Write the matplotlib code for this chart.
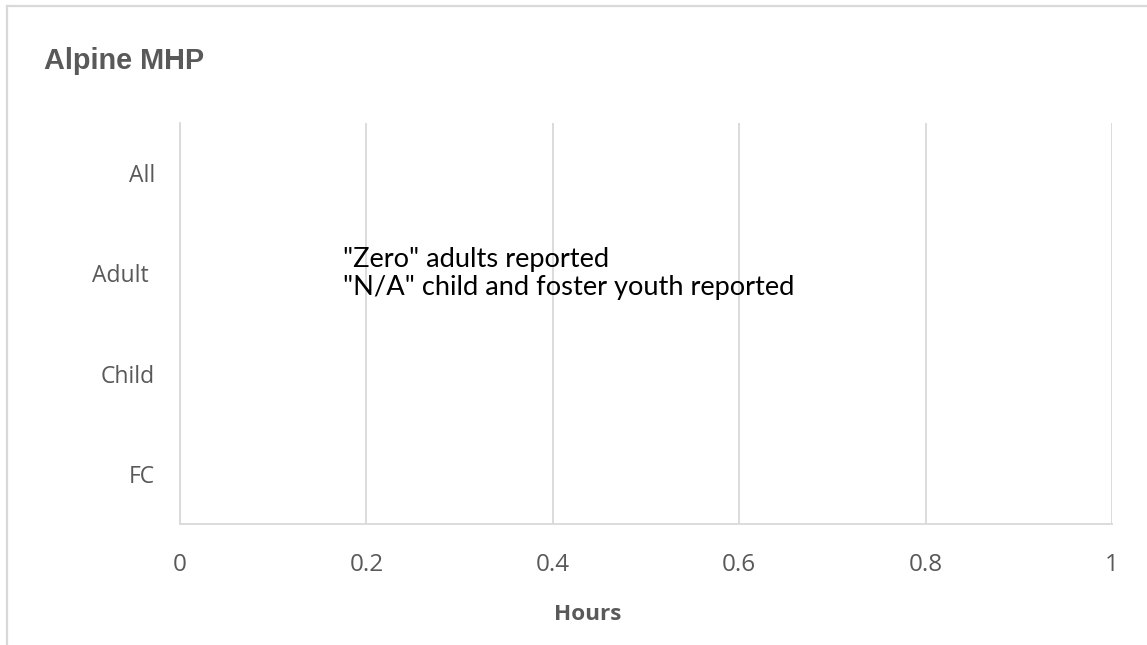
import numpy as np
import matplotlib
matplotlib.use("Agg")
import matplotlib.pyplot as plt
from matplotlib.lines import Line2D

# Service categories (top to bottom) and hours reported
categories = ["All", "Adult ", "Child", "FC"]
hours = [0.0, 0.0, np.nan, np.nan]
x_ticks = [0, 0.2, 0.4, 0.6, 0.8, 1]
x_tick_labels = ["0", "0.2", "0.4", "0.6", "0.8", "1"]

title = "Alpine MHP"
x_title = "Hours"
note_lines = ['"Zero" adults reported', '"N/A" child and foster youth reported']

TEXT = "#595959"
GRID = "#d9d9d9"

W, H = 1147, 645
fig = plt.figure(figsize=(W / 100, H / 100), dpi=100)
fig.patch.set_facecolor("white")

# Chart-area frame (top and left edges)
fig.add_artist(Line2D([7 / W, 1.0], [1 - 6 / H, 1 - 6 / H], transform=fig.transFigure,
                      color=GRID, lw=1.6))
fig.add_artist(Line2D([7 / W, 7 / W], [0.0, 1 - 6 / H], transform=fig.transFigure,
                      color=GRID, lw=1.6))

left, right = 180 / W, 1112 / W
bottom, top = 1 - 524 / H, 1 - 123 / H
ax = fig.add_axes([left, bottom, right - left, top - bottom])

y = np.arange(len(categories))
ax.barh(y, np.nan_to_num(hours), height=0.6, color="#4472c4", linewidth=0)
ax.set_ylim(len(categories) - 0.5, -0.5)
ax.set_xlim(0, 1)
ax.set_yticks(y)
ax.set_yticklabels(categories)
ax.set_xticks(x_ticks)
ax.set_xticklabels(x_tick_labels)

ax.grid(axis="x", color=GRID, lw=1.3)
ax.set_axisbelow(True)
for s in ["top", "right"]:
    ax.spines[s].set_visible(False)
for s in ["left", "bottom"]:
    ax.spines[s].set_color(GRID)
    ax.spines[s].set_linewidth(1.3)

ax.tick_params(axis="both", length=0, colors=TEXT)
ax.tick_params(axis="x", pad=21, labelsize=17.5)
ax.tick_params(axis="y", pad=18, labelsize=16.5)
for lab in ax.get_xticklabels() + ax.get_yticklabels():
    lab.set_fontfamily("Open Sans")

fig.text(44 / W, 1 - 61 / H, title, fontsize=20.8, fontweight="bold", color=TEXT,
         family="Liberation Sans", ha="left", va="center")
fig.text(588 / W, 1 - 614 / H, x_title, fontsize=16.2, fontweight="bold", color=TEXT,
         family="Open Sans", ha="center", va="center")

ax.text(343 / W, 1 - 259 / H, note_lines[0], transform=fig.transFigure,
        fontsize=19.6, color="black", family="Lato", ha="left", va="center")
ax.text(343 / W, 1 - 287 / H, note_lines[1], transform=fig.transFigure,
        fontsize=19.6, color="black", family="Lato", ha="left", va="center")

fig.savefig("out.png", dpi=100, facecolor="white")
